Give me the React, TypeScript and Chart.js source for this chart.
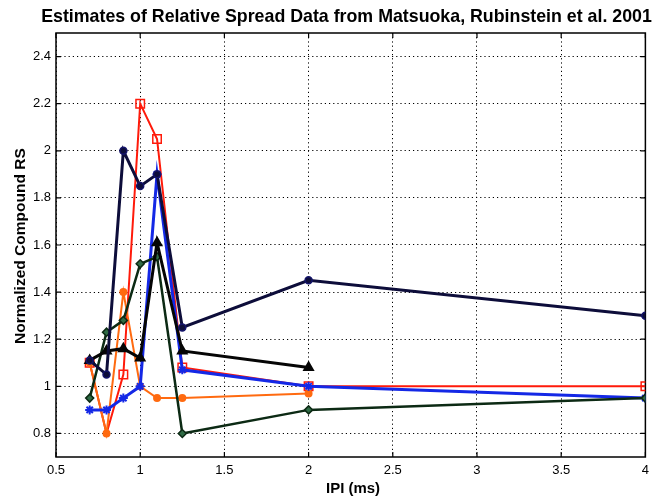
import React, { useEffect, useRef } from "react";
import { Chart, registerables } from "chart.js";

Chart.register(...registerables);

const titleText = "Estimates of Relative Spread Data from Matsuoka, Rubinstein et al. 2001";
const xLabel = "IPI (ms)";
const yLabel = "Normalized Compound RS";

const xTicks = [0.5, 1, 1.5, 2, 2.5, 3, 3.5, 4];
const yTicks = [0.8, 1, 1.2, 1.4, 1.6, 1.8, 2, 2.2, 2.4];

// series: IPI (ms) and normalized compound RS
const navyIpi = [0.7, 0.8, 0.9, 1.0, 1.1, 1.25, 2, 4];
const navyRs = [1.11, 1.05, 2.0, 1.85, 1.9, 1.25, 1.45, 1.3];

const blackIpi = [0.7, 0.8, 0.9, 1.0, 1.1, 1.25, 2];
const blackRs = [1.11, 1.15, 1.16, 1.12, 1.61, 1.15, 1.08];

const greenIpi = [0.7, 0.8, 0.9, 1.0, 1.1, 1.25, 2, 4];
const greenRs = [0.95, 1.23, 1.28, 1.52, 1.55, 0.8, 0.9, 0.95];

const blueIpi = [0.7, 0.8, 0.9, 1.0, 1.1, 1.25, 2, 4];
const blueRs = [0.9, 0.9, 0.95, 1.0, 1.9, 1.07, 1.0, 0.95];

const redIpi = [0.7, 0.8, 0.9, 1.0, 1.1, 1.25, 2, 4];
const redRs = [1.1, 0.8, 1.05, 2.2, 2.05, 1.08, 1.0, 1.0];
const redMarked = [true, false, true, true, true, true, true, true];

const orangeIpi = [0.7, 0.8, 0.9, 1.0, 1.1, 1.25, 2];
const orangeRs = [1.1, 0.8, 1.4, 1.0, 0.95, 0.95, 0.97];

const pts = (xs: number[], ys: number[]) => xs.map((x, i) => ({ x, y: ys[i] }));

const fitFont = (ctx: CanvasRenderingContext2D, text: string, base: number, target: number) => {
  ctx.font = `bold ${base}px "Liberation Sans", Arial, sans-serif`;
  const w = ctx.measureText(text).width;
  const fs = (base * target) / w;
  ctx.font = `bold ${fs}px "Liberation Sans", Arial, sans-serif`;
};

const framePlugin = {
  id: "framePlugin",
  beforeDatasetsDraw(chart: any) {
    const { ctx, chartArea: a, scales } = chart;
    ctx.save();
    ctx.strokeStyle = "#000";
    ctx.lineWidth = 1.5;
    ctx.setLineDash([]);
    ctx.strokeRect(a.left, a.top, a.right - a.left, a.bottom - a.top);
    ctx.lineWidth = 1.2;
    const tl = 5;
    for (const v of xTicks) {
      const px = scales.x.getPixelForValue(v);
      ctx.beginPath();
      ctx.moveTo(px, a.bottom);
      ctx.lineTo(px, a.bottom - tl);
      ctx.moveTo(px, a.top);
      ctx.lineTo(px, a.top + tl);
      ctx.stroke();
    }
    for (const v of yTicks) {
      const py = scales.y.getPixelForValue(v);
      ctx.beginPath();
      ctx.moveTo(a.left, py);
      ctx.lineTo(a.left + tl, py);
      ctx.moveTo(a.right, py);
      ctx.lineTo(a.right - tl, py);
      ctx.stroke();
    }
    ctx.restore();
  },
  afterDraw(chart: any) {
    const { ctx, chartArea: a } = chart;
    ctx.save();
    ctx.fillStyle = "#000";
    ctx.textAlign = "center";
    ctx.textBaseline = "middle";
    fitFont(ctx, titleText, 15, 611);
    ctx.fillText(titleText, 346.5, 17);
    fitFont(ctx, xLabel, 14, 54);
    ctx.fillText(xLabel, 353, 489);
    fitFont(ctx, yLabel, 14, 196);
    ctx.translate(21, (a.top + a.bottom) / 2 + 1);
    ctx.rotate(-Math.PI / 2);
    ctx.fillText(yLabel, 0, 0);
    ctx.restore();
  },
};

export default function App() {
  const ref = useRef<HTMLCanvasElement>(null);
  useEffect(() => {
    if (!ref.current) return;
    const font = { family: '"Liberation Sans", Arial, sans-serif', size: 13 };
    const chart = new Chart(ref.current, {
      type: "line",
      data: {
        datasets: [
          {
            data: pts(navyIpi, navyRs),
            borderColor: "#0d0d3a",
            backgroundColor: "#0d0d3a",
            borderWidth: 3,
            pointStyle: "circle",
            pointRadius: 3.5,
            pointBorderWidth: 1.5,
            pointBorderColor: "#14146a",
            pointBackgroundColor: "#0d0d3a",
          },
          {
            data: pts(blackIpi, blackRs),
            borderColor: "#050505",
            backgroundColor: "#050505",
            borderWidth: 3,
            pointStyle: "triangle",
            pointRadius: 4,
            pointBackgroundColor: "#050505",
          },
          {
            data: pts(greenIpi, greenRs),
            borderColor: "#0c2a14",
            backgroundColor: "#0c2a14",
            borderWidth: 2.5,
            pointStyle: "rectRot",
            pointRadius: 4,
            pointBorderWidth: 1.5,
            pointBackgroundColor: "#2f6b45",
          },
          {
            data: pts(blueIpi, blueRs),
            borderColor: "#1428e6",
            backgroundColor: "#1428e6",
            borderWidth: 3,
            pointStyle: "star",
            pointRadius: 4.5,
            pointBorderWidth: 2,
          },
          {
            data: pts(orangeIpi, orangeRs),
            borderColor: "#ff6a10",
            backgroundColor: "#ff6a10",
            borderWidth: 2,
            pointStyle: "circle",
            pointRadius: 3,
            pointBackgroundColor: "#ff6a10",
          },
          {
            data: pts(redIpi, redRs),
            borderColor: "#ff1a0a",
            backgroundColor: "rgba(255,255,255,0)",
            borderWidth: 2,
            pointStyle: "rect",
            pointRadius: redMarked.map((m) => (m ? 6 : 0)),
            pointBorderWidth: 1.5,
            pointBackgroundColor: "rgba(255,255,255,0)",
          },
        ],
      },
      options: {
        responsive: false,
        animation: false,
        layout: { padding: { top: 33, right: 3, left: 0, bottom: 0 } },
        plugins: { legend: { display: false }, title: { display: false }, tooltip: { enabled: false } },
        elements: { line: { tension: 0 } },
        scales: {
          x: {
            type: "linear",
            min: 0.5,
            max: 4,
            afterBuildTicks: (s: any) => {
              s.ticks = xTicks.map((v) => ({ value: v }));
            },
            afterFit: (s: any) => {
              s.height = 42;
            },
            ticks: { font, color: "#000", padding: 6, maxRotation: 0, callback: (v: any) => String(v) },
            grid: { color: "#000", lineWidth: 1, drawTicks: false },
            border: { display: false, dash: [1.2, 3] },
          },
          y: {
            type: "linear",
            min: 0.7,
            max: 2.5,
            afterBuildTicks: (s: any) => {
              s.ticks = yTicks.map((v) => ({ value: v }));
            },
            afterFit: (s: any) => {
              s.width = 56;
            },
            ticks: { font, color: "#000", padding: 5, callback: (v: any) => String(Math.round(v * 10) / 10) },
            grid: { color: "#000", lineWidth: 1, drawTicks: false },
            border: { display: false, dash: [1.2, 3] },
          },
        },
      },
      plugins: [framePlugin],
    });
    return () => chart.destroy();
  }, []);
  return (
    <div style={{ position: "absolute", left: 0, top: 0, width: 655, height: 499, background: "#fff" }}>
      <canvas ref={ref} width={655} height={499} style={{ width: 655, height: 499 }} />
    </div>
  );
}
